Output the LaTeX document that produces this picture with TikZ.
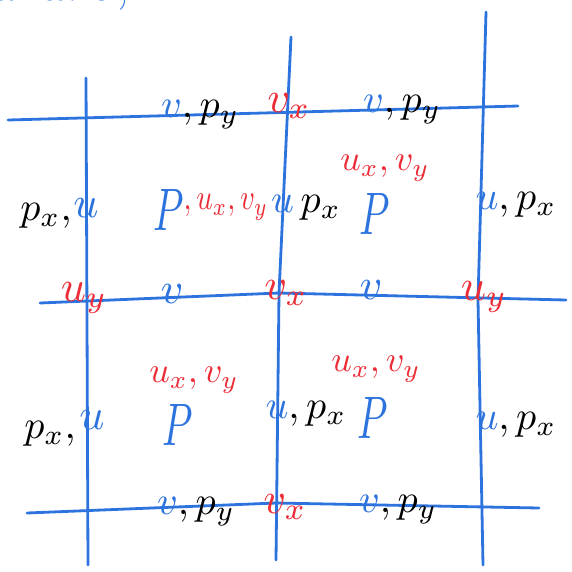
\documentclass[tikz,border=0pt]{standalone}
\definecolor{gblue}{RGB}{45,115,222}
\definecolor{gred}{RGB}{236,45,55}
\begin{document}
\begin{tikzpicture}[x=1pt,y=-1pt,
  grid/.style={draw=gblue,line width=2.8pt,line cap=round,line join=round},
  lab/.style={inner sep=0pt,scale=4},
  bigp/.style={inner sep=0pt,scale=6,xscale=0.65,text=gblue},
  pair/.style={inner sep=0pt,scale=3.6,text=gred},
  single/.style={inner sep=0pt,scale=4.4}]
\useasboundingbox (0,0) rectangle (572,571);
% partial heading, cut by the top edge
\begin{scope}
\clip (0,0) rectangle (572,571);
\node[inner sep=0pt,scale=5,text=gblue,anchor=south west] (head) at (-8,11) {$a\;\,are,$};
\end{scope}
% grid coordinates
\coordinate (v1a) at (86,78);  \coordinate (v1b) at (88,565);
\coordinate (v2a) at (291,37); \coordinate (v2m) at (279,293); \coordinate (v2b) at (276,560);
\coordinate (v3a) at (486,12); \coordinate (v3m) at (478,300); \coordinate (v3b) at (483,565);
\coordinate (h1a) at (8,120);  \coordinate (h1b) at (518,106);
\coordinate (h2a) at (40,303); \coordinate (h2m) at (279,293); \coordinate (h2b) at (566,300);
\coordinate (h3a) at (27,513); \coordinate (h3m) at (276,503); \coordinate (h3b) at (539,508);
\draw[grid] (v1a) -- (v1b);
\draw[grid] (v2a) -- (v2m) -- (v2b);
\draw[grid] (v3a) -- (v3m) -- (v3b);
\draw[grid] (h1a) -- (h1b);
\draw[grid] (h2a) -- (h2m) -- (h2b);
\draw[grid] (h3a) -- (h3m) -- (h3b);
% top row
\node[lab] (t1) at (200,115) {${\color{gblue}v},p_y$};
\node[single,text=gred] (t2) at (289,106) {$v_x$};
\node[lab] (t3) at (402,110) {${\color{gblue}v},p_y$};
% second row
\node[lab] (r1a) at (46,216) {$p_x,$};
\node[single,text=gblue] (r1b) at (86,208) {$u$};
\node[bigp] (r1c) at (169,210) {$P$};
\node[pair,xscale=0.8,anchor=west] (r1d) at (183,207) {$,u_x,v_y$};
\node[lab] (r1e) at (306,208) {${\color{gblue}u}\,p_x$};
\node[pair] (r1f) at (385,168) {$u_x,v_y$};
\node[bigp] (r1g) at (375,214) {$P$};
\node[lab] (r1h) at (516,205) {${\color{gblue}u},p_x$};
% middle line
\node[single,text=gred] (m1) at (84,298) {$u_y$};
\node[single,text=gblue] (m2) at (172,294) {$v$};
\node[single,text=gred] (m3) at (286,293) {$v_x$};
\node[single,text=gblue] (m4) at (371,290) {$v$};
\node[single,text=gred] (m5) at (484,297) {$u_y$};
% fourth row
\node[lab] (s1a) at (50,434) {$p_x,$};
\node[single,text=gblue] (s1b) at (92,420) {$u$};
\node[pair] (s1c) at (194,380) {$u_x,v_y$};
\node[bigp] (s1d) at (178,425) {$P$};
\node[lab] (s1e) at (306,414) {${\color{gblue}u},p_x$};
\node[pair] (s1f) at (376,369) {$u_x,v_y$};
\node[bigp] (s1g) at (373,418) {$P$};
\node[lab] (s1h) at (516,425) {${\color{gblue}u},p_x$};
% bottom line
\node[lab] (b1) at (196,512) {${\color{gblue}v},p_y$};
\node[single,text=gred] (b2) at (285,507) {$v_x$};
\node[lab] (b3) at (398,510) {${\color{gblue}v},p_y$};
\end{tikzpicture}
\end{document}
